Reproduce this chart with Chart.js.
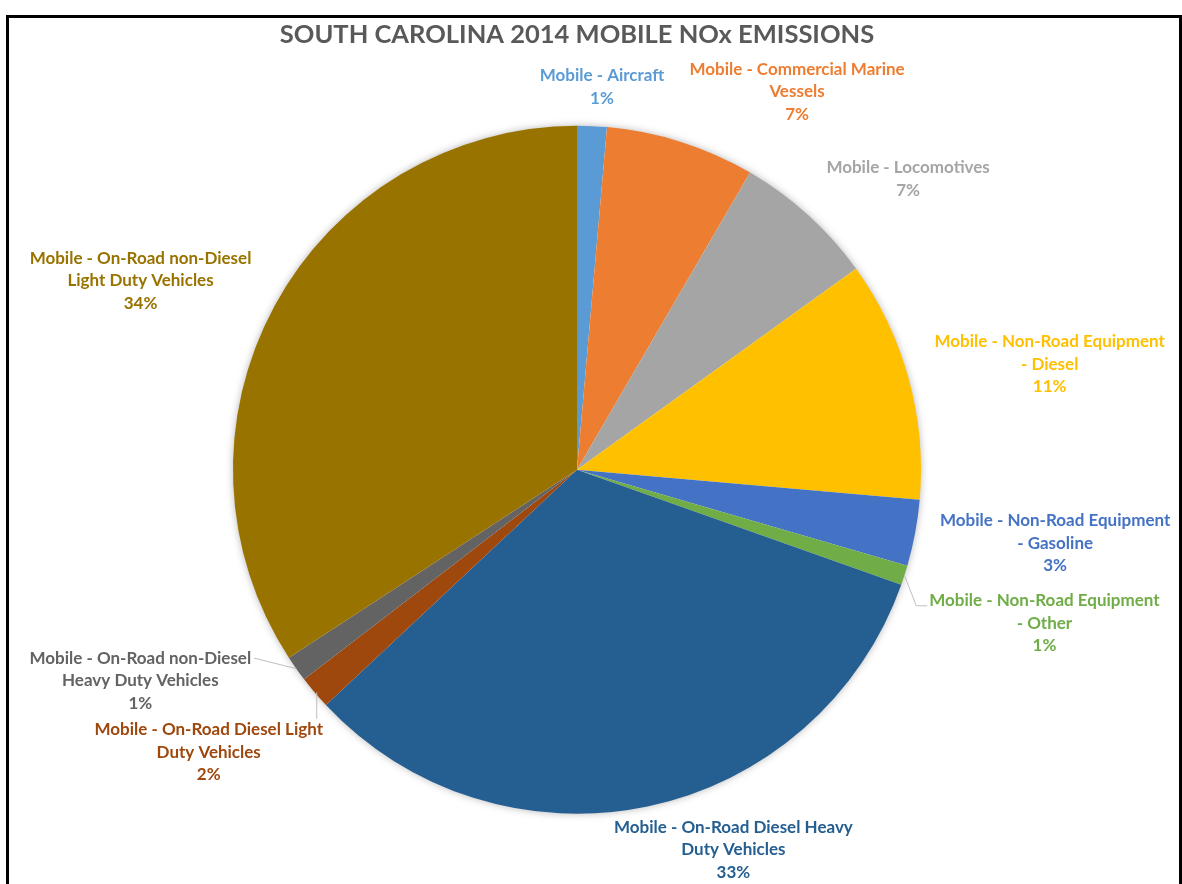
<!DOCTYPE html>
<html>
<head>
<meta charset="utf-8">
<script src="https://cdn.jsdelivr.net/npm/chart.js@4/dist/chart.umd.min.js"></script>
<style>
  html, body { margin: 0; padding: 0; background: #fff; overflow: hidden; }
  #frame {
    position: absolute; left: 6px; top: 15px; width: 1170px; height: 900px;
    border: 3px solid #000;
  }
  #chart { position: absolute; left: 0; top: 0; }
</style>
</head>
<body>
<div id="frame"></div>
<canvas id="chart" width="1182" height="884"></canvas>
<script>
// slice names, already wrapped the way the labels show them
const categories = [
    ['Mobile - Aircraft'],
    ['Mobile - Commercial Marine', 'Vessels'],
    ['Mobile - Locomotives'],
    ['Mobile - Non-Road Equipment', '- Diesel'],
    ['Mobile - Non-Road Equipment', '- Gasoline'],
    ['Mobile - Non-Road Equipment', '- Other'],
    ['Mobile - On-Road Diesel Heavy', 'Duty Vehicles'],
    ['Mobile - On-Road Diesel Light', 'Duty Vehicles'],
    ['Mobile - On-Road non-Diesel', 'Heavy Duty Vehicles'],
    ['Mobile - On-Road non-Diesel', 'Light Duty Vehicles']
];
// share of mobile NOx emissions, %
const shares = [1.39, 7.0, 6.67, 11.33, 3.11, 0.92, 32.6, 1.56, 1.22, 34.2];

const sliceColors = ['#5B9BD5', '#ED7D31', '#A5A5A5', '#FFC000', '#4472C4',
                     '#70AD47', '#255E91', '#9E480E', '#636363', '#997300'];

// where each label sits, measured from the slice's outer edge at its mid-angle
const labelOffsets = [[10, -39], [116, -50], [100, -36], [141, -14], [140, 10],
                      [140, 48], [86, 43], [-106, 60], [-156, 12], [-134, -25]];
const leaders = [null, null, null, null, null, 'left', null, 'top', 'right', null];

const labelFont = 'bold 17px Lato';
const lineH = 22.5;

const pieShadow = {
    id: 'pieShadow',
    beforeDatasetsDraw(chart) {
        const arc = chart.getDatasetMeta(0).data[0];
        const ctx = chart.ctx;
        ctx.save();
        ctx.shadowColor = 'rgba(0,0,0,0.35)';
        ctx.shadowBlur = 8;
        ctx.fillStyle = '#fff';
        ctx.beginPath();
        ctx.arc(arc.x, arc.y, arc.outerRadius - 1, 0, Math.PI * 2);
        ctx.fill();
        ctx.restore();
    }
};

const sliceLabels = {
    id: 'sliceLabels',
    afterDatasetsDraw(chart) {
        const ctx = chart.ctx;
        const meta = chart.getDatasetMeta(0);
        ctx.save();
        ctx.font = labelFont;
        ctx.textAlign = 'center';
        ctx.textBaseline = 'middle';
        meta.data.forEach((arc, i) => {
            const p = arc.getProps(['x', 'y', 'startAngle', 'endAngle', 'outerRadius'], true);
            const mid = (p.startAngle + p.endAngle) / 2;
            const ex = p.x + Math.cos(mid) * p.outerRadius;
            const ey = p.y + Math.sin(mid) * p.outerRadius;
            const cx = ex + labelOffsets[i][0];
            const cy = ey + labelOffsets[i][1];
            const lines = [...categories[i], Math.round(shares[i]) + '%'];
            const firstY = cy - (lines.length - 1) * lineH / 2;
            const w0 = ctx.measureText(lines[0]).width;

            if (leaders[i]) {
                ctx.strokeStyle = '#BFBFBF';
                ctx.lineWidth = 1;
                ctx.beginPath();
                ctx.moveTo(ex, ey);
                if (leaders[i] === 'left') {
                    const lx = cx - w0 / 2;
                    ctx.lineTo(lx - 13, firstY + 5);
                    ctx.lineTo(lx - 2, firstY + 5);
                } else if (leaders[i] === 'right') {
                    ctx.lineTo(cx + w0 / 2 + 3, firstY);
                } else {
                    ctx.moveTo(ex + 2, ey);
                    ctx.lineTo(ex + 2, firstY - 11);
                }
                ctx.stroke();
            }

            ctx.fillStyle = sliceColors[i];
            lines.forEach((t, k) => ctx.fillText(t, cx, firstY + k * lineH));
        });
        ctx.restore();
    }
};

new Chart(document.getElementById('chart').getContext('2d'), {
    type: 'pie',
    data: {
        labels: categories,
        datasets: [{
            data: shares,
            backgroundColor: sliceColors,
            borderWidth: 0
        }]
    },
    options: {
        responsive: false,
        animation: false,
        layout: { padding: { left: 233, right: 261, top: 0, bottom: 70 } },
        plugins: {
            legend: { display: false },
            tooltip: { enabled: false },
            title: {
                display: true,
                text: 'SOUTH CAROLINA 2014 MOBILE NOx EMISSIONS',
                color: '#595959',
                font: { family: 'Lato', size: 25.5, weight: 'bold', lineHeight: 1.2 },
                padding: { top: 19, bottom: 76 }
            }
        }
    },
    plugins: [pieShadow, sliceLabels]
});
</script>
</body>
</html>
